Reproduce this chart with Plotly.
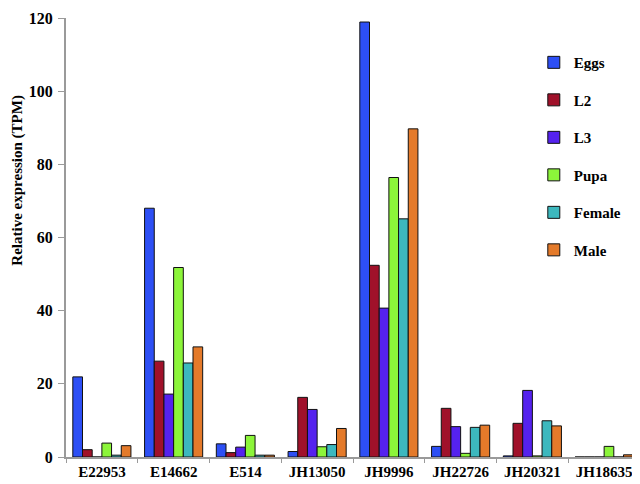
import plotly.graph_objects as go

# genes on the x axis
genes = ["E22953", "E14662", "E514", "JH13050", "JH9996", "JH22726", "JH20321", "JH18635"]

# expression per stage (TPM)
eggs = [21.9, 68.0, 3.6, 1.5, 118.9, 2.9, 0.3, 0.0]
l2 = [2.0, 26.2, 1.2, 16.3, 52.4, 13.3, 9.2, 0.0]
l3 = [0.0, 17.2, 2.7, 13.0, 40.7, 8.3, 18.2, 0.0]
pupa = [3.8, 51.8, 5.9, 2.8, 76.4, 1.0, 0.3, 2.9]
female = [0.5, 25.7, 0.5, 3.4, 65.1, 8.1, 9.9, 0.0]
male = [3.1, 30.1, 0.5, 7.8, 89.7, 8.7, 8.5, 0.6]

stages = ["Eggs", "L2", "L3", "Pupa", "Female", "Male"]
series = [eggs, l2, l3, pupa, female, male]
colors = ["#2d4ff5", "#a0112a", "#5522ee", "#8cf53a", "#3db8be", "#e47a2a"]

serif = "Liberation Serif"

fig = go.Figure()
for name, vals, col in zip(stages, series, colors):
    fig.add_trace(go.Bar(
        x=genes, y=vals, name=name, legendgroup=name,
        marker=dict(color=col, line=dict(color="#111111", width=1)),
    ))

# page body has an 8px margin, so the figure is 8px smaller each way
fig.update_layout(
    width=632, height=476,
    margin=dict(l=58, r=0, t=10, b=27),
    paper_bgcolor="white", plot_bgcolor="white",
    barmode="group", bargap=0.19, bargroupgap=0,
    font=dict(family=serif, size=14, color="black"),
    legend=dict(
        x=0.815, y=0.936, xanchor="left", yanchor="top",
        traceorder="grouped", tracegroupgap=15,
        font=dict(family=serif, size=15, color="black", weight="bold"),
        bgcolor="rgba(0,0,0,0)", itemwidth=30,
    ),
    # y title sits above the axis middle in the original, so use an annotation
    annotations=[dict(
        text="Relative expression (TPM)", textangle=-90,
        xref="paper", yref="paper", x=-0.085, y=0.63,
        xanchor="center", yanchor="middle", showarrow=False,
        font=dict(family=serif, size=15, color="black", weight="bold"),
    )],
)

fig.update_yaxes(
    range=[0, 120], dtick=20, showgrid=False, zeroline=False, automargin=False,
    showline=True, linecolor="#9a9a9a", linewidth=2,
    ticks="outside", ticklen=6, tickcolor="#9a9a9a", ticklabelstandoff=2,
    tickfont=dict(family=serif, size=16, weight="bold"),
)
fig.update_xaxes(
    showgrid=False, automargin=False,
    showline=True, linecolor="#9a9a9a", linewidth=2,
    ticks="outside", ticklen=4, tickcolor="#9a9a9a", tickson="boundaries",
    tickfont=dict(family=serif, size=15, weight="bold"),
)

fig.write_html("out.html")
